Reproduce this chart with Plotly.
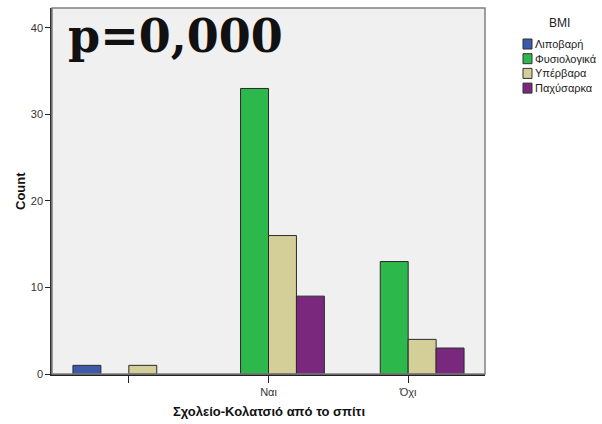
import plotly.graph_objects as go

categories = ["", "Ναι", "Όχι"]
series_names = ["Λιποβαρή", "Φυσιολογικά", "Υπέρβαρα", "Παχύσαρκα"]
lipovari = [1, None, None]
fysiologika = [None, 33, 13]
ypervara = [1, 16, 4]
paxysarka = [None, 9, 3]
series_values = [lipovari, fysiologika, ypervara, paxysarka]
colors = ["#3d59ab", "#2db84b", "#d4cf98", "#7a287e"]
y_ticks = [0, 10, 20, 30, 40]

x_pos = list(range(len(categories)))

W, H = 602, 424
ML, MR, MT, MB = 52, 117, 8, 50
PW = W - ML - MR
PH = H - MT - MB


def px_x(px):
    return (px - ML) / PW


def px_y(py):
    return 1 - (py - MT) / PH


fig = go.Figure()
for name, vals, col in zip(series_names, series_values, colors):
    fig.add_trace(go.Bar(
        x=x_pos, y=vals, name=name, showlegend=False,
        marker=dict(color=col, line=dict(color="#2a2a2a", width=1)),
    ))

fig.update_layout(
    width=W, height=H,
    barmode="group", bargap=0.2, bargroupgap=0,
    paper_bgcolor="white", plot_bgcolor="#f0f0f0",
    margin=dict(l=ML, r=MR, t=MT, b=MB, autoexpand=False),
    font=dict(family="Liberation Sans, Arial, sans-serif", size=11, color="#333"),
)

fig.update_xaxes(
    range=[-0.55, 2.55], automargin=False,
    tickmode="array", tickvals=x_pos, ticktext=categories,
    ticks="outside", ticklen=7, tickcolor="#222", tickwidth=1,
    showline=True, linecolor="#222", linewidth=1.5,
    showgrid=False, zeroline=False,
    tickfont=dict(size=11, color="#333"),
)
fig.update_yaxes(
    range=[0, 42.3], automargin=False,
    tickmode="array", tickvals=y_ticks,
    ticks="outside", ticklen=5, tickcolor="#222", tickwidth=1,
    showline=True, linecolor="#333", linewidth=1.5,
    showgrid=False, zeroline=False,
    tickfont=dict(size=11, color="#333"),
)

fig.add_shape(type="rect", xref="paper", yref="paper", x0=0, y0=0, x1=1, y1=1,
              line=dict(color="#808080", width=1.5), layer="above")

# axis titles
fig.add_annotation(text="<b>Count</b>", xref="paper", yref="paper",
                   x=px_x(20), y=0.5, textangle=-90, showarrow=False,
                   xanchor="center", yanchor="middle",
                   font=dict(size=13, color="#111"))
fig.add_annotation(text="<b>Σχολείο-Κολατσιό από το σπίτι</b>", xref="paper", yref="paper",
                   x=0.5, y=px_y(411), showarrow=False,
                   xanchor="center", yanchor="middle",
                   font=dict(size=13, color="#111"))

# legend (drawn manually to match layout)
fig.add_annotation(text="BMI", xref="paper", yref="paper",
                   x=px_x(559), y=px_y(23), showarrow=False,
                   xanchor="center", yanchor="middle",
                   font=dict(size=12, color="#222"))
row0, dy = 44, 14.7
for i, (name, col) in enumerate(zip(series_names, colors)):
    cy = row0 + i * dy
    fig.add_shape(type="rect", xref="paper", yref="paper",
                  x0=px_x(523), x1=px_x(532), y0=px_y(cy - 5), y1=px_y(cy + 5),
                  fillcolor=col, line=dict(color="#333", width=1))
    fig.add_annotation(text=name, xref="paper", yref="paper",
                       x=px_x(533), y=px_y(cy), showarrow=False,
                       xanchor="left", yanchor="middle",
                       font=dict(size=11, color="#222"))

fig.add_annotation(
    text="<b>p=0,000</b>", xref="paper", yref="paper",
    x=px_x(66), y=px_y(36), xanchor="left", yanchor="middle", showarrow=False,
    font=dict(family="DejaVu Serif, serif", size=46, color="#111"),
)

fig.write_html(
    "out.html",
    config={"displayModeBar": False},
    post_script="document.body.style.margin='0';document.body.style.overflow='hidden';",
)
